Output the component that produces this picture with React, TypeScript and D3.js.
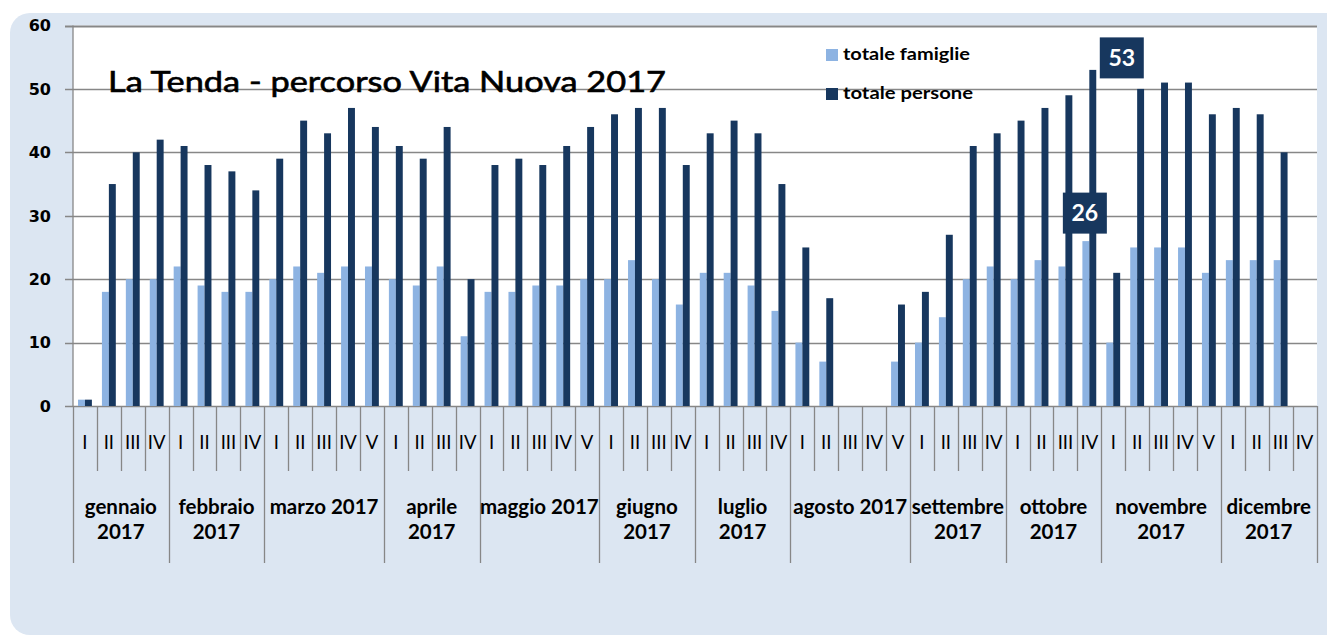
import React, { useEffect, useRef } from 'react';
import * as d3 from 'd3';

// weeks per month and their labels
const monthLabels: string[][] = [
  ['gennaio', '2017'], ['febbraio', '2017'], ['marzo 2017'], ['aprile', '2017'],
  ['maggio 2017'], ['giugno', '2017'], ['luglio', '2017'], ['agosto 2017'],
  ['settembre', '2017'], ['ottobre', '2017'], ['novembre', '2017'], ['dicembre', '2017']
];
const weeksPerMonth = [4, 4, 5, 4, 5, 4, 4, 5, 4, 4, 5, 4];
const weekLabels = ['I', 'II', 'III', 'IV', 'V'];

const totaleFamiglie = [
  1, 18, 20, 20,
  22, 19, 18, 18,
  20, 22, 21, 22, 22,
  20, 19, 22, 11,
  18, 18, 19, 19, 20,
  20, 23, 20, 16,
  21, 21, 19, 15,
  10, 7, 0, 0, 7,
  10, 14, 20, 22,
  20, 23, 22, 26,
  10, 25, 25, 25, 21,
  23, 23, 23, 0
];
const totalePersone = [
  1, 35, 40, 42,
  41, 38, 37, 34,
  39, 45, 43, 47, 44,
  41, 39, 44, 20,
  38, 39, 38, 41, 44,
  46, 47, 47, 38,
  43, 45, 43, 35,
  25, 17, 0, 0, 16,
  18, 27, 41, 43,
  45, 47, 49, 53,
  21, 50, 51, 51, 46,
  47, 46, 40, 0
];
const yTicks = [0, 10, 20, 30, 40, 50, 60];
const seriesNames = ['totale famiglie', 'totale persone'];
// the week whose values get a callout: ottobre, IV
const calloutMonth = 9;
const calloutWeek = 3;

const LIGHT = '#8db3e2';
const DARK = '#17375e';
const GRID = '#878787';

export default function App() {
  const ref = useRef<SVGSVGElement>(null);

  useEffect(() => {
    if (!ref.current) return;
    const svg = d3.select(ref.current);
    svg.selectAll('*').remove();

    const W = 1327;
    const left = 73, right = 1316.5, top = 25.5, bottom = 406;

    // categories
    const cats: { id: string; month: number; week: number }[] = [];
    weeksPerMonth.forEach((n, m) => {
      for (let w = 0; w < n; w++) cats.push({ id: `${m}-${w}`, month: m, week: w });
    });

    const x = d3.scaleBand<string>().domain(cats.map(c => c.id)).range([left, right]).padding(0);
    const bw = x.bandwidth();
    const x1 = d3.scaleBand<string>().domain(['fam', 'pers']).range([bw * 0.21, bw * 0.79]).padding(0);
    const y = d3.scaleLinear().domain([0, 60]).range([bottom, top]);

    // background panel
    svg.append('rect')
      .attr('x', 10).attr('y', 13).attr('width', W + 30).attr('height', 622)
      .attr('rx', 20).attr('fill', '#dce6f2');

    // plot area
    svg.append('rect')
      .attr('x', left).attr('y', top).attr('width', right - left + 0.5).attr('height', bottom - top)
      .attr('fill', '#ffffff');

    // gridlines
    svg.append('g').selectAll('line').data(yTicks).enter().append('line')
      .attr('x1', 65).attr('x2', right + 0.5)
      .attr('y1', d => Math.round(y(d)) + 0.5).attr('y2', d => Math.round(y(d)) + 0.5)
      .attr('stroke', GRID)
      .attr('stroke-width', d => (d === 60 ? 2.2 : 1.3));

    // y axis line
    svg.append('line')
      .attr('x1', left).attr('x2', left).attr('y1', top).attr('y2', bottom)
      .attr('stroke', GRID).attr('stroke-width', 1.3);

    // y tick labels
    svg.append('g').selectAll('text').data(yTicks).enter().append('text')
      .attr('x', 51).attr('y', d => y(d))
      .attr('dy', '0.36em')
      .attr('text-anchor', 'end')
      .attr('font-family', 'DejaVu Sans, Verdana, sans-serif')
      .attr('font-weight', 'bold')
      .attr('font-size', 16)
      .attr('fill', '#000')
      .text(d => d);

    // bars
    const bars = svg.append('g');
    bars.selectAll('rect.fam').data(cats).enter().append('rect')
      .attr('class', 'fam')
      .attr('x', (c) => (x(c.id) || 0) + (x1('fam') || 0))
      .attr('width', x1.bandwidth())
      .attr('y', (_, i) => y(totaleFamiglie[i]))
      .attr('height', (_, i) => bottom - y(totaleFamiglie[i]))
      .attr('fill', LIGHT);
    bars.selectAll('rect.pers').data(cats).enter().append('rect')
      .attr('class', 'pers')
      .attr('x', (c) => (x(c.id) || 0) + (x1('pers') || 0))
      .attr('width', x1.bandwidth())
      .attr('y', (_, i) => y(totalePersone[i]))
      .attr('height', (_, i) => bottom - y(totalePersone[i]))
      .attr('fill', DARK);

    // category axis: week ticks and month separators
    const axis = svg.append('g');
    const boundaries: { x: number; monthEdge: boolean }[] = [];
    cats.forEach((c, i) => {
      boundaries.push({ x: x(c.id) || 0, monthEdge: c.week === 0 });
      if (i === cats.length - 1) boundaries.push({ x: (x(c.id) || 0) + bw, monthEdge: true });
    });
    axis.selectAll('line').data(boundaries).enter().append('line')
      .attr('x1', d => Math.round(d.x) + 0.5).attr('x2', d => Math.round(d.x) + 0.5)
      .attr('y1', bottom).attr('y2', d => (d.monthEdge ? 563 : 471))
      .attr('stroke', GRID).attr('stroke-width', 1.3);

    axis.selectAll('text.week').data(cats).enter().append('text')
      .attr('class', 'week')
      .attr('x', c => (x(c.id) || 0) + bw / 2)
      .attr('y', 449)
      .attr('text-anchor', 'middle')
      .attr('font-family', 'Lato, sans-serif')
      .attr('font-size', 18.5)
      .attr('fill', '#000')
      .text(c => weekLabels[c.week]);

    // month labels
    let start = 0;
    monthLabels.forEach((lines, m) => {
      const first = cats[start];
      const last = cats[start + weeksPerMonth[m] - 1];
      const cx = ((x(first.id) || 0) + (x(last.id) || 0) + bw) / 2;
      const t = axis.append('text')
        .attr('text-anchor', 'middle')
        .attr('font-family', 'Lato, sans-serif')
        .attr('font-weight', 'bold')
        .attr('font-size', 20.5)
        .attr('fill', '#000');
      lines.forEach((ln, k) => {
        t.append('tspan').attr('x', cx).attr('y', 514 + k * 25).text(ln);
      });
      start += weeksPerMonth[m];
    });

    // title
    svg.append('text')
      .attr('x', 108).attr('y', 92)
      .attr('font-family', 'Lato, sans-serif')
      .attr('font-size', 29)
      .attr('textLength', 558)
      .attr('lengthAdjust', 'spacingAndGlyphs')
      .attr('fill', '#000')
      .attr('stroke', '#000')
      .attr('stroke-width', 0.6)
      .text('La Tenda - percorso Vita Nuova 2017');

    // legend
    const legend = svg.append('g');
    seriesNames.forEach((name, i) => {
      const ly = 55 + i * 39;
      legend.append('rect')
        .attr('x', 826).attr('y', ly - 6).attr('width', 12).attr('height', 12)
        .attr('fill', i === 0 ? LIGHT : DARK);
      legend.append('text')
        .attr('x', 843).attr('y', ly + 5)
        .attr('font-family', 'Lato, sans-serif')
        .attr('font-weight', 'bold')
        .attr('font-size', 17.5)
        .attr('textLength', i === 0 ? 127 : 130)
        .attr('lengthAdjust', 'spacingAndGlyphs')
        .attr('fill', '#000')
        .text(name);
    });

    // callouts
    const idx = weeksPerMonth.slice(0, calloutMonth).reduce((a, b) => a + b, 0) + calloutWeek;
    const cat = cats[idx];
    const callouts = [
      { v: totaleFamiglie[idx], cx: (x(cat.id) || 0) + (x1('fam') || 0) + x1.bandwidth() / 2 - 1, dy: -28 },
      { v: totalePersone[idx], cx: (x(cat.id) || 0) + (x1('pers') || 0) + x1.bandwidth() / 2 + 29, dy: -12 }
    ];
    callouts.forEach(c => {
      const cy = y(c.v) + c.dy;
      svg.append('rect')
        .attr('x', c.cx - 22).attr('y', cy - 20.5).attr('width', 44).attr('height', 41)
        .attr('fill', DARK);
      svg.append('text')
        .attr('x', c.cx).attr('y', cy)
        .attr('dy', '0.36em')
        .attr('text-anchor', 'middle')
        .attr('font-family', 'Lato, sans-serif')
        .attr('font-weight', 'bold')
        .attr('font-size', 23)
        .attr('fill', '#fff')
        .text(c.v);
    });
  }, []);

  return (
    <svg
      ref={ref}
      width={1327}
      height={637}
      style={{ position: 'absolute', left: 0, top: 0, display: 'block', background: '#fff' }}
    />
  );
}
